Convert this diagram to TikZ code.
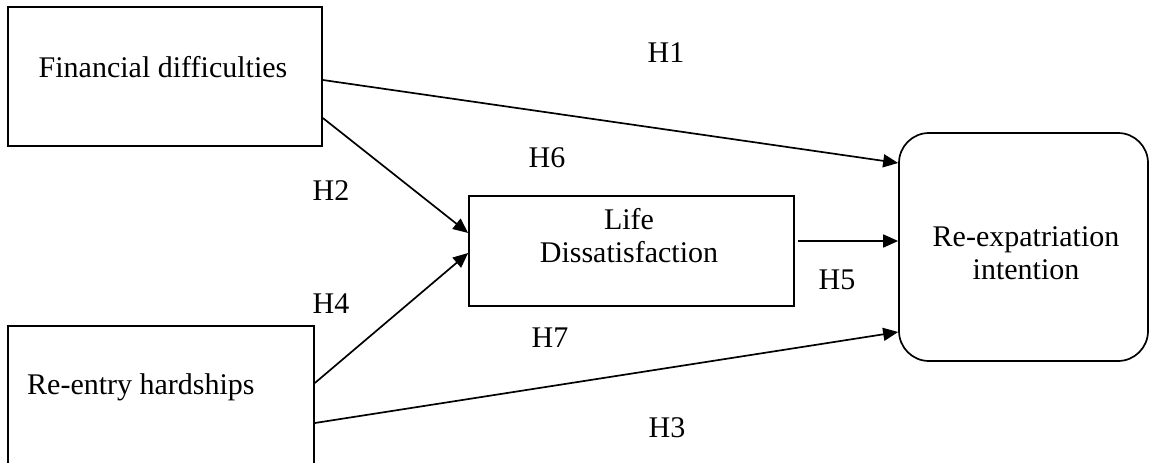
\documentclass[tikz,border=0pt]{standalone}
\usepackage{fontspec}
\setmainfont{Liberation Serif}
\usetikzlibrary{arrows.meta}
\begin{document}
\begin{tikzpicture}[x=1pt,y=-1pt,
  box/.style={draw, line width=1.7pt, minimum width=#1, inner sep=0pt},
  txt/.style={inner sep=0pt, font=\fontsize{30}{33}\selectfont, align=center},
  hyp/.style={inner sep=0pt, anchor=base, font=\fontsize{30}{33}\selectfont},
  link/.style={line width=1.7pt, -{Triangle[length=15pt,width=13pt]}}]
\useasboundingbox (0,0) rectangle (1151,463);
\clip (0,0) rectangle (1151,463);
\fill[white] (0,0) rectangle (1151,463);
% boxes
\node[box=314pt, minimum height=139pt] (fin) at (165,76.5) {};
\node[box=306pt, minimum height=174pt] (reent) at (161,413) {};
\node[box=325pt, minimum height=110pt] (life) at (631.5,251) {};
\node[box=249pt, minimum height=228pt, rounded corners=30pt] (reexp) at (1023.5,247) {};
% texts
\node[txt, anchor=base] (fint) at (163,77) {Financial difficulties};
\node[txt, anchor=base west] (reentt) at (27,394) {Re-entry hardships};
\node[txt, anchor=base] (lifet) at (629,262) {Life\\Dissatisfaction};
\node[txt, anchor=base] (reexpt) at (1026,279) {Re-expatriation\\intention};
% arrows
\draw[link] ([yshift=-3.5pt]fin.east) -- ([yshift=84pt]reexp.west);
\draw[link] ([yshift=-41.5pt]fin.east) -- ([yshift=18pt]life.west);
\draw[link] ([yshift=30pt]reent.east) -- ([yshift=-2pt]life.west);
\draw[link] ([xshift=3pt,yshift=10pt]life.east) -- ([yshift=10pt]life.east -| reexp.west);
\draw[link] ([yshift=-10pt]reent.east) -- ([yshift=-85pt]reexp.west);
% hypothesis labels
\node[hyp] (h1) at (666,62) {H1};
\node[hyp] (h6) at (547,167) {H6};
\node[hyp] (h2) at (331,200) {H2};
\node[hyp] (h4) at (331,313) {H4};
\node[hyp] (h5) at (837,289) {H5};
\node[hyp] (h7) at (550,347) {H7};
\node[hyp] (h3) at (667,437) {H3};
\end{tikzpicture}
\end{document}
